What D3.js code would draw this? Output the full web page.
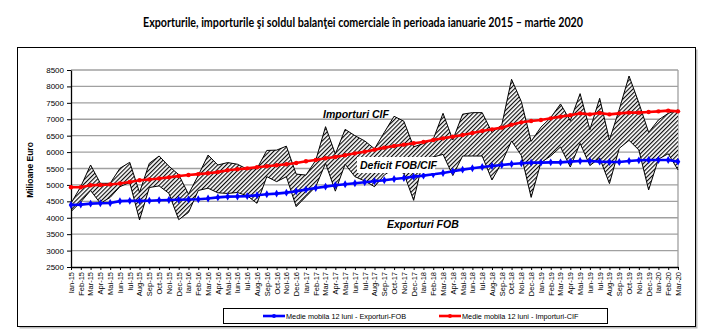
<!DOCTYPE html>
<html><head><meta charset="utf-8">
<script src="https://cdn.jsdelivr.net/npm/d3@7"></script>
<style>body{margin:0;background:#fff}svg{display:block}</style>
</head><body><svg id="c" width="727" height="331"></svg>
<script>
const months = ["Ian-15","Feb-15","Mar-15","Apr-15","Mai-15","Iun-15","Iul-15","Aug-15","Sep-15","Oct-15","Noi-15","Dec-15",
"Ian-16","Feb-16","Mar-16","Apr-16","Mai-16","Iun-16","Iul-16","Aug-16","Sep-16","Oct-16","Noi-16","Dec-16",
"Ian-17","Feb-17","Mar-17","Apr-17","Mai-17","Iun-17","Iul-17","Aug-17","Sep-17","Oct-17","Noi-17","Dec-17",
"Ian-18","Feb-18","Mar-18","Apr-18","Mai-18","Iun-18","Iul-18","Aug-18","Sep-18","Oct-18","Noi-18","Dec-18",
"Ian-19","Feb-19","Mar-19","Apr-19","Mai-19","Iun-19","Iul-19","Aug-19","Sep-19","Oct-19","Noi-19","Dec-19",
"Ian-20","Feb-20","Mar-20"];
const exporturiFOB = [4186,4480,4830,4440,4620,4947,5075,3932,4920,4970,4745,3942,
4160,4830,4900,4760,4740,4770,4670,4440,5252,5100,5250,4338,
4643,4947,5658,4810,5630,5252,5120,4947,5303,5500,5350,4530,
5800,5850,5930,5285,5880,5880,5880,5150,5680,6340,5895,4620,
5680,5881,6155,5545,6267,5590,5820,5040,6115,6358,6064,4846,
5785,5950,5455];
const importuriCIF = [4440,4950,5607,5049,5049,5506,5688,4770,5658,5881,5570,5313,
4720,5290,5910,5607,5680,5630,5480,5500,6050,6060,6180,5330,
5300,5750,6774,5940,6693,6500,6340,6100,6600,7090,6940,6160,
6260,6390,7180,6369,7155,7201,7201,6600,6825,8216,7536,6328,
6760,7050,7465,6957,7780,6683,7637,6368,7300,8317,7500,6600,
6977,7180,7282];
const medieExport = [4389,4400,4430,4440,4450,4505,4515,4515,4520,4535,4540,4550,
4555,4565,4585,4620,4643,4645,4660,4684,4714,4735,4765,4805,
4856,4907,4948,4988,5019,5049,5080,5110,5140,5181,5211,5252,
5282,5323,5364,5414,5465,5506,5546,5577,5607,5638,5658,5678,
5678,5688,5688,5709,5729,5729,5709,5699,5699,5729,5749,5760,
5760,5760,5709];
const medieImport = [4927,4930,4990,5000,5015,5045,5090,5140,5165,5195,5230,5270,
5300,5330,5355,5390,5445,5475,5505,5536,5567,5597,5628,5668,
5719,5760,5810,5851,5902,5962,6013,6074,6135,6186,6226,6267,
6308,6368,6419,6470,6521,6582,6643,6693,6744,6835,6906,6947,
6978,7028,7079,7120,7180,7150,7190,7150,7180,7201,7201,7221,
7241,7262,7241];
const yTicks = [2500,3000,3500,4000,4500,5000,5500,6000,6500,7000,7500,8000,8500];
const titleText = "Exporturile, importurile \u015Fi soldul balan\u0163ei comerciale \u00EEn perioada ianuarie 2015 \u2013 martie 2020";
const legendLabels = ["Medie mobila 12 luni - Exporturi-FOB","Medie mobila 12 luni - Importuri-CIF"];

const svg = d3.select("#c");
const FONT = "'Liberation Sans', Arial, sans-serif";
const L = 71, R = 678, T = 70, B = 267;

const defs = svg.append("defs");
const pat = defs.append("pattern").attr("id","hatch").attr("patternUnits","userSpaceOnUse")
  .attr("width",3).attr("height",3).attr("patternTransform","rotate(45)");
pat.append("rect").attr("width",3).attr("height",3).attr("fill","#fff");
pat.append("line").attr("x1",0.6).attr("y1",0).attr("x2",0.6).attr("y2",3).attr("stroke","#000").attr("stroke-width",1.1);

// outer frame with shadow
svg.append("rect").attr("x",19.5).attr("y",49.5).attr("width",678).attr("height",279).attr("fill","#bbb");
svg.append("rect").attr("x",17.5).attr("y",47.5).attr("width",678).attr("height",279).attr("fill","#fff").attr("stroke","#000");

svg.append("text").attr("x",363).attr("y",27).attr("text-anchor","middle")
  .attr("font-family","Lato, 'Open Sans', sans-serif").attr("font-weight","bold").attr("font-size",14)
  .attr("textLength",440).attr("lengthAdjust","spacingAndGlyphs").text(titleText);

const x = d3.scalePoint().domain(months).range([L, R]);
const y = d3.scaleLinear().domain([2500, 8500]).range([B, T]);

// grid
svg.append("g").selectAll("line").data(yTicks.filter(d => d > 2500)).join("line")
  .attr("x1", L).attr("x2", R).attr("y1", d => y(d)).attr("y2", d => y(d))
  .attr("stroke","#a0a0a0").attr("stroke-width",1.3);
svg.append("line").attr("x1",R).attr("x2",R).attr("y1",T).attr("y2",B).attr("stroke","#a0a0a0").attr("stroke-width",1.3);

// hatched deficit area
const area = d3.area().x((d,i) => x(months[i])).y0((d,i) => y(exporturiFOB[i])).y1((d,i) => y(importuriCIF[i]));
svg.append("path").datum(months).attr("d", area).attr("fill","url(#hatch)");
const line = arr => d3.line().x((d,i) => x(months[i])).y(d => y(d))(arr);
svg.append("path").attr("d", line(exporturiFOB)).attr("fill","none").attr("stroke","#000").attr("stroke-width",1);
svg.append("path").attr("d", line(importuriCIF)).attr("fill","none").attr("stroke","#000").attr("stroke-width",1);

// axes
const yAxis = svg.append("g").attr("transform",`translate(${L},0)`)
  .call(d3.axisLeft(y).tickValues(yTicks).tickSize(4).tickSizeOuter(0).tickFormat(d3.format("d")));
yAxis.select(".domain").attr("stroke","#000").attr("stroke-width",1.3);
yAxis.selectAll("text").attr("font-family",FONT).attr("font-size",8).attr("fill","#000").attr("x",-7);

const xAxis = svg.append("g").attr("transform",`translate(0,${B})`)
  .call(d3.axisBottom(x).tickSize(3).tickSizeOuter(0));
xAxis.select(".domain").attr("stroke","#000").attr("stroke-width",1.3);
xAxis.selectAll("text").attr("font-family",FONT).attr("font-size",7.5).attr("fill","#000")
  .attr("transform","rotate(-90)").attr("text-anchor","end").attr("x",-5).attr("y",0).attr("dy","0.32em");

// moving averages
svg.append("path").attr("d", line(medieImport)).attr("fill","none").attr("stroke","#ff0000").attr("stroke-width",2.6);
svg.append("g").selectAll("circle").data(medieImport).join("circle")
  .attr("cx",(d,i)=>x(months[i])).attr("cy",d=>y(d)).attr("r",2.2).attr("fill","#ff0000");
svg.append("path").attr("d", line(medieExport)).attr("fill","none").attr("stroke","#0000ff").attr("stroke-width",2.6);
svg.append("g").selectAll("path").data(medieExport).join("path")
  .attr("d", d3.symbol(d3.symbolDiamond, 18)).attr("transform",(d,i)=>`translate(${x(months[i])},${y(d)})`).attr("fill","#0000ff");

// annotations
const lab = (t, xx, yy) => svg.append("text").attr("x",xx).attr("y",yy).attr("font-family",FONT)
  .attr("font-weight","bold").attr("font-style","italic").attr("font-size",10.5).text(t);
lab("Importuri CIF", 323, 118);
svg.append("rect").attr("x",357).attr("y",157).attr("width",78).attr("height",16).attr("fill","#fff");
lab("Deficit FOB/CIF", 360, 169);
lab("Exporturi FOB", 387, 228);

// y title
svg.append("text").attr("transform","translate(33,170) rotate(-90)").attr("text-anchor","middle")
  .attr("font-family",FONT).attr("font-size",8.5).attr("font-weight","bold").text("Milioane Euro");

// legend
svg.append("rect").attr("x",223.5).attr("y",308.5).attr("width",384).attr("height",15).attr("fill","#fff").attr("stroke","#000");
const legItems = [{t:legendLabels[0], c:"#0000ff", x0:263}, {t:legendLabels[1], c:"#ff0000", x0:439}];
legItems.forEach(it => {
  svg.append("line").attr("x1",it.x0).attr("x2",it.x0+22).attr("y1",316).attr("y2",316).attr("stroke",it.c).attr("stroke-width",2.6);
  svg.append("circle").attr("cx",it.x0+11).attr("cy",316).attr("r",2).attr("fill",it.c);
  svg.append("text").attr("x",it.x0+23).attr("y",318.5).attr("font-family",FONT).attr("font-size",7.3).text(it.t);
});
</script></body></html>
